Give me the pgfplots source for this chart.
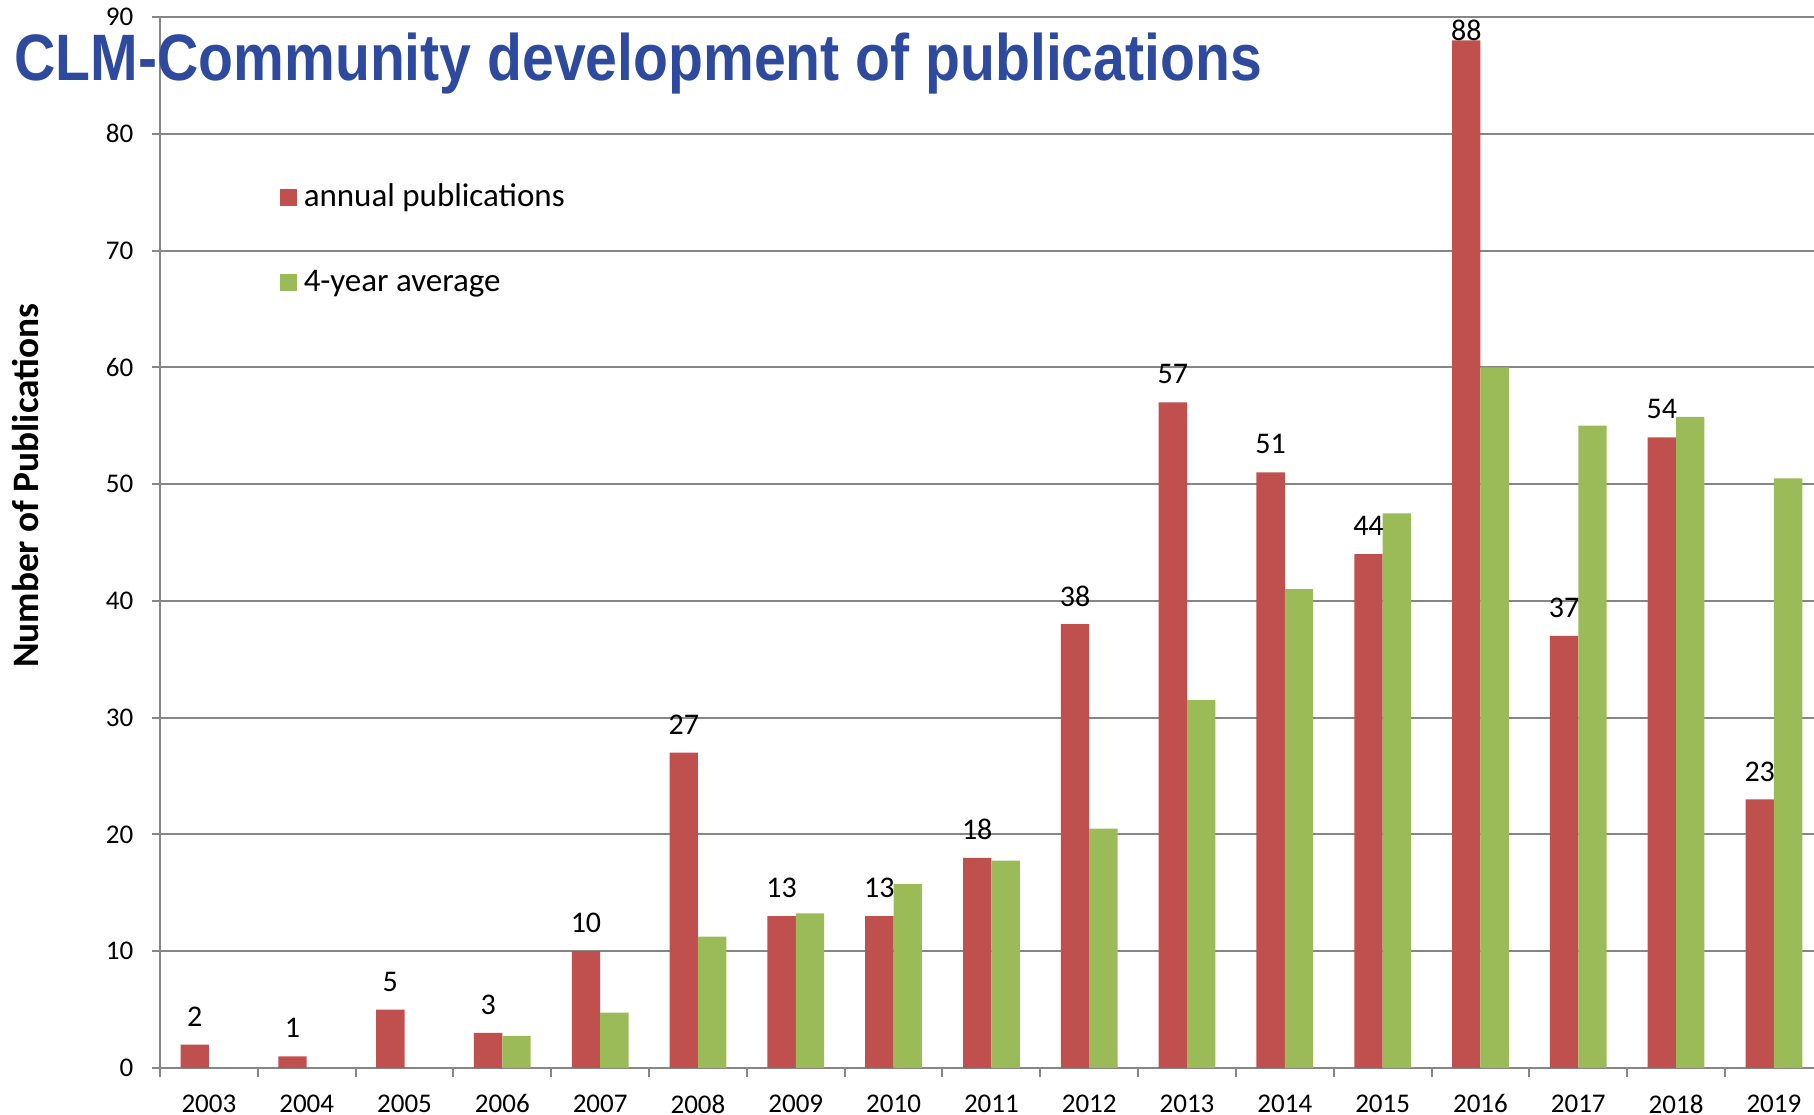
\documentclass[border=0pt]{standalone}
\usepackage{pgfplots}
\pgfplotsset{compat=1.18}
\usepackage{pgfplotstable}
\usepackage{graphicx}
\usepackage{fontspec}
\setmainfont{Carlito}
\newfontfamily\titlefont{Liberation Sans}
\definecolor{cred}{HTML}{C0504D}
\definecolor{cgreen}{HTML}{9BBB59}
\definecolor{cgrid}{HTML}{868686}
\definecolor{ctitle}{HTML}{2E4A9E}

\pgfplotstableread{
x y dy
0 2 8.4
1 1 8.4
2 5 8.4
3 3 8.4
4 10 8.4
5 27 8.4
6 13 8.4
7 13 8.4
8 18 8.4
9 38 8.4
10 57 8.4
11 51 8.4
12 44 8.4
13 88 3
14 37 8.4
15 54 8.4
16 23 8.4
}\annual

\pgfplotstableread{
x y
3 2.75
4 4.75
5 11.25
6 13.25
7 15.75
8 17.75
9 20.5
10 31.5
11 41
12 47.5
13 60
14 55
15 55.75
16 50.5
}\avg

\begin{document}
\begin{tikzpicture}
\begin{axis}[
  at={(0,0)}, anchor=south west,
  scale only axis, width=496.2pt, height=315.3pt,
  xmin=-0.5, xmax=16.41, ymin=0, ymax=90,
  /pgf/number format/assume math mode=true,
  axis lines=left,
  axis line style={-, draw=cgrid, line width=0.6pt},
  tick align=outside,
  ytick={0,10,...,90},
  xtick={0,...,16},
  xticklabels={2003,2004,2005,2006,2007,2008,2009,2010,2011,2012,2013,2014,2015,2016,2017,2018,2019},
  minor xtick={-0.5,0.5,...,16.5},
  major x tick style={draw=none},
  minor x tick style={draw=cgrid, line width=0.6pt},
  minor tick length=2.7pt,
  major tick length=2.4pt,
  y tick style={draw=cgrid, line width=0.6pt},
  ymajorgrids,
  grid style={cgrid, line width=0.6pt},
  xticklabel style={font=\fontsize{8.1}{9.7}\selectfont, inner sep=0pt, anchor=north, yshift=-5.4pt},
  yticklabel style={font=\fontsize{8.1}{9.7}\selectfont, inner sep=0pt, anchor=east, xshift=-5.4pt},
  ylabel={Number of Publications},
  ylabel style={at={(axis description cs:-0.0816,0.554)}, anchor=center, font=\bfseries\fontsize{11.2}{13}\selectfont},
  title={\titlefont\bfseries\fontsize{19.7}{22}\selectfont\scalebox{0.87}[1]{CLM-Community development of publications}},
  title style={at={(axis description cs:-0.0883,0.940)}, anchor=base west, yshift=-6pt, inner sep=0pt, text=ctitle},
  ybar=0pt, bar width=0.29,
  legend cell align=left,
  legend style={at={(0.072,0.843)}, anchor=north west, draw=none, fill=none, inner sep=0pt,
    row sep=16.5pt, column sep=2.1pt, font=\fontsize{9.9}{11}\selectfont,
    nodes={inner sep=0pt, text height=7pt, text depth=2pt}},
]
\addplot[fill=cred, draw=none,
  legend image code/.code={\fill[cred] (0pt,-2.55pt) rectangle (5.1pt,2.55pt);},
  nodes near coords,
  visualization depends on={\thisrow{dy} \as \dy},
  every node near coord/.append style={anchor=center, yshift=\dy pt, font=\fontsize{9}{10}\selectfont, text=black}
] table[x=x, y=y] {\annual};
\addlegendentry{annual publications}
\addplot[fill=cgreen, draw=none,
  legend image code/.code={\fill[cgreen] (0pt,-2.55pt) rectangle (5.1pt,2.55pt);}
] table[x=x, y=y] {\avg};
\addlegendentry{4-year average}
\end{axis}
\pgfresetboundingbox
\path[use as bounding box] (-48pt,-14.1pt) rectangle (496.2pt,320.4pt);
\end{tikzpicture}
\end{document}
